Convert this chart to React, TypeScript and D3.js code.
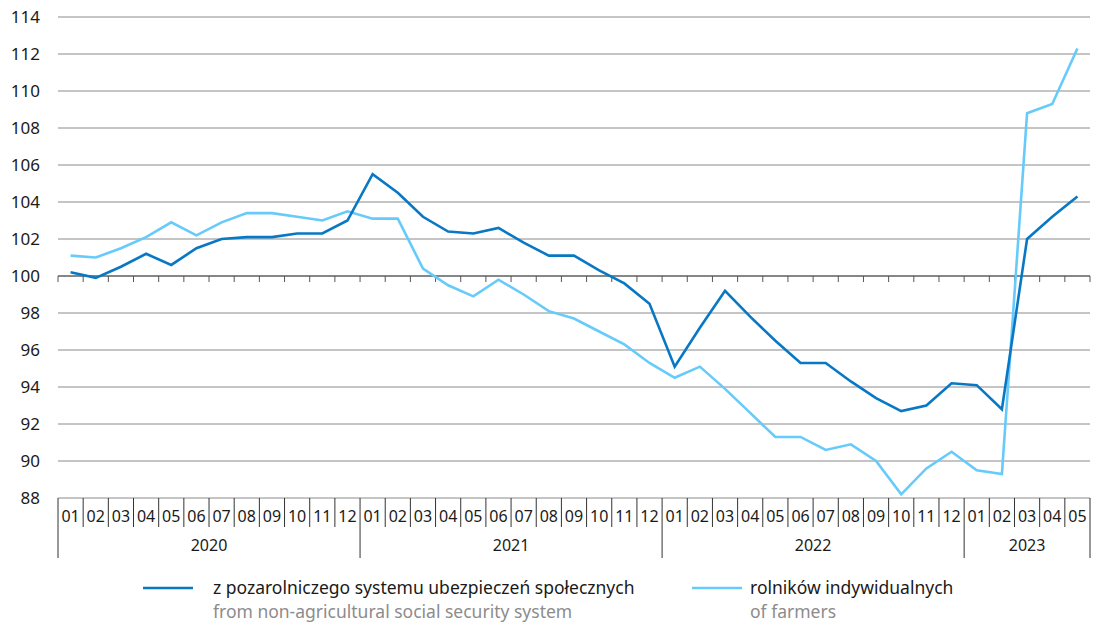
import React from "react";
import * as d3 from "d3";

const years = ["2020", "2021", "2022", "2023"];
const monthsPerYear = [12, 12, 12, 5];
const monthLabels = ["01","02","03","04","05","06","07","08","09","10","11","12"];

const nonAgri = [
  100.2, 99.9, 100.5, 101.2, 100.6, 101.5, 102.0, 102.1, 102.1, 102.3, 102.3, 103.0,
  105.5, 104.5, 103.2, 102.4, 102.3, 102.6, 101.8, 101.1, 101.1, 100.3, 99.6, 98.5,
  95.1, 97.2, 99.2, 97.8, 96.5, 95.3, 95.3, 94.3, 93.4, 92.7, 93.0, 94.2,
  94.1, 92.8, 102.0, 103.2, 104.3,
];
const farmers = [
  101.1, 101.0, 101.5, 102.1, 102.9, 102.2, 102.9, 103.4, 103.4, 103.2, 103.0, 103.5,
  103.1, 103.1, 100.4, 99.5, 98.9, 99.8, 99.0, 98.1, 97.7, 97.0, 96.3, 95.3,
  94.5, 95.1, 93.9, 92.6, 91.3, 91.3, 90.6, 90.9, 90.0, 88.2, 89.6, 90.5,
  89.5, 89.3, 108.8, 109.3, 112.3,
];
const yTicks = [88, 90, 92, 94, 96, 98, 100, 102, 104, 106, 108, 110, 112, 114];

const legendPL = ["z pozarolniczego systemu ubezpieczeń społecznych", "rolników indywidualnych"];
const legendEN = ["from non-agricultural social security system", "of farmers"];

const DARK = "#0878c4";
const LIGHT = "#66cbfa";
const FONT = "'Noto Sans', sans-serif";

export default function App() {
  const W = 1093, H = 623;
  const left = 58, right = 1090;
  const top = 17, bottom = 498;

  const cats: { key: string; m: string; y: string }[] = [];
  years.forEach((y, yi) => {
    for (let i = 0; i < monthsPerYear[yi]; i++) cats.push({ key: `${y}-${monthLabels[i]}`, m: monthLabels[i], y });
  });

  const x = d3.scaleBand<string>().domain(cats.map(c => c.key)).range([left, right]).padding(0);
  const y = d3.scaleLinear().domain([88, 114]).range([bottom, top]);
  const bw = x.bandwidth();
  const cx = (k: string) => (x(k) as number) + bw / 2;

  const line = d3.line<number>().x((_, i) => cx(cats[i].key)).y(d => y(d));

  const yearStarts: number[] = [];
  let acc = 0;
  monthsPerYear.forEach(n => { yearStarts.push(acc); acc += n; });

  return (
    <div style={{ position: "absolute", left: 0, top: 0, width: W, height: H, overflow: "hidden" }}>
      <svg width={W} height={H} style={{ display: "block", fontFamily: FONT }}>
        <rect width={W} height={H} fill="#fff" />
        {yTicks.map(t => (
          <g key={t}>
            {t !== 100 && (
              <line x1={left} x2={right} y1={y(t)} y2={y(t)} stroke="#8a8a8a" strokeWidth={1} />
            )}
            <text x={40} y={y(t)} dy="0.35em" textAnchor="end" fontSize={17} fill="#1a1a1a">{t}</text>
          </g>
        ))}
        <line x1={left} x2={right} y1={y(100)} y2={y(100)} stroke="#111" strokeWidth={1.2} />
        {cats.map((c, i) => (
          <line key={"t" + i} x1={x(c.key) as number} x2={x(c.key) as number} y1={y(100)} y2={y(100) + 6} stroke="#555" strokeWidth={1} />
        ))}
        <line x1={right} x2={right} y1={y(100)} y2={y(100) + 6} stroke="#555" strokeWidth={1} />

        {cats.map((c, i) => {
          const xs = x(c.key) as number;
          const isYearStart = yearStarts.includes(i);
          return (
            <g key={"c" + i}>
              <line x1={xs} x2={xs} y1={bottom} y2={isYearStart ? 558 : 527} stroke="#333" strokeWidth={1} />
              <text x={xs + bw / 2} y={516} dy="0.35em" textAnchor="middle" fontSize={16} fill="#1a1a1a">{c.m}</text>
            </g>
          );
        })}
        <line x1={right} x2={right} y1={bottom} y2={558} stroke="#333" strokeWidth={1} />
        {years.map((yr, yi) => {
          const s = x(cats[yearStarts[yi]].key) as number;
          const e = s + monthsPerYear[yi] * bw;
          return (
            <text key={yr} x={(s + e) / 2} y={545.5} dy="0.35em" textAnchor="middle" fontSize={16} fill="#1a1a1a">{yr}</text>
          );
        })}

        <path d={line(farmers) || ""} fill="none" stroke={LIGHT} strokeWidth={2.6} strokeLinejoin="miter" />
        <path d={line(nonAgri) || ""} fill="none" stroke={DARK} strokeWidth={2.6} strokeLinejoin="miter" />

        <line x1={143} x2={193} y1={588} y2={588} stroke={DARK} strokeWidth={2.6} />
        <text x={213} y={588} dy="0.35em" fontSize={17.5} fill="#1a1a1a">{legendPL[0]}</text>
        <text x={213} y={612} dy="0.35em" fontSize={17.5} fill="#8c8c8c">{legendEN[0]}</text>
        <line x1={692} x2={742} y1={588} y2={588} stroke={LIGHT} strokeWidth={2.6} />
        <text x={750} y={588} dy="0.35em" fontSize={17.5} fill="#1a1a1a">{legendPL[1]}</text>
        <text x={750} y={612} dy="0.35em" fontSize={17.5} fill="#8c8c8c">{legendEN[1]}</text>
      </svg>
    </div>
  );
}
